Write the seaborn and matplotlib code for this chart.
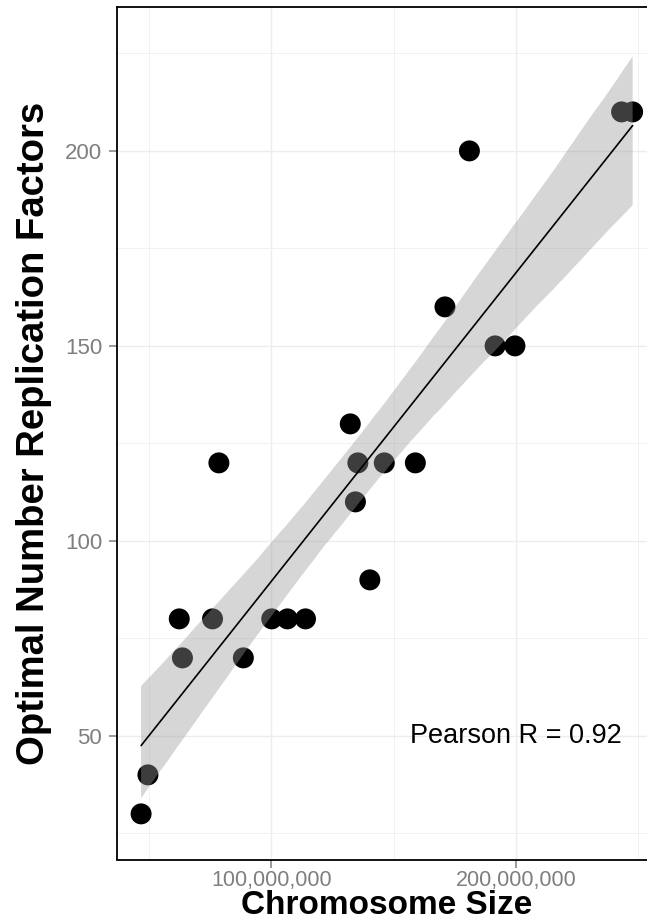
import numpy as np
import pandas as pd
import matplotlib
matplotlib.use("Agg")
import matplotlib.pyplot as plt
import seaborn as sns
from matplotlib.ticker import FuncFormatter, FixedLocator

# ---- data ----
chrom_size_mb = [46.7, 49.5, 62.3, 63.6, 75.9, 78.5, 88.5, 100.1, 106.5, 113.9,
                 132.2, 135.3, 146.1, 158.8, 134.3, 140.2, 170.9, 180.9, 191.4,
                 199.5, 243.1, 247.6]
rep_factors = [30, 40, 80, 70, 80, 120, 70, 80, 80, 80,
               130, 120, 120, 120, 110, 90, 160, 200, 150,
               150, 210, 210]
x_major = [100e6, 200e6]
x_minor = [50e6, 150e6, 250e6]
y_major = [50, 100, 150, 200]
y_minor = [25, 75, 125, 175, 225]
annot_text = "Pearson R = 0.92"

df = pd.DataFrame({"size": np.array(chrom_size_mb) * 1e6, "rf": rep_factors})

sns.set_theme(style="white")
plt.rcParams['font.family'] = ['Liberation Sans', 'DejaVu Sans']

W, H = 647, 922
fig = plt.figure(figsize=(W / 100, H / 100), dpi=100)
ax_left, ax_right, ax_top, ax_bottom = 116.5, 657.2, 7.0, 859.5
ax = fig.add_axes([ax_left / W, (H - ax_bottom) / H,
                   (ax_right - ax_left) / W, (ax_bottom - ax_top) / H])

sns.scatterplot(data=df, x="size", y="rf", s=228, color="black",
                edgecolor="none", linewidth=0, ax=ax, zorder=2)
sns.regplot(data=df, x="size", y="rf", scatter=False, ci=95, n_boot=3000,
            seed=1, color="black", line_kws=dict(lw=1.2, zorder=4), ax=ax)

# style the confidence band like ggplot (grey60, alpha .4, drawn over points)
for coll in ax.collections[1:]:
    coll.set_facecolor((0.6, 0.6, 0.6))
    coll.set_alpha(0.4)
    coll.set_edgecolor("none")
    coll.set_zorder(3)

ax.set_xlim(36.65e6, 257.65e6)
ax.set_ylim(18.3, 236.9)

ax.xaxis.set_major_locator(FixedLocator(x_major))
ax.xaxis.set_minor_locator(FixedLocator(x_minor))
ax.yaxis.set_major_locator(FixedLocator(y_major))
ax.yaxis.set_minor_locator(FixedLocator(y_minor))
ax.xaxis.set_major_formatter(FuncFormatter(lambda v, p: f"{int(round(v)):,}"))

ax.set_axisbelow(True)
ax.grid(which="major", color="#EDEDED", lw=1.0)
ax.grid(which="minor", color="#F1F1F1", lw=0.7)

for side in ["left", "bottom", "top", "right"]:
    ax.spines[side].set_color("black")
    ax.spines[side].set_linewidth(1.3)

ax.tick_params(axis="both", which="major", direction="out", length=5.8, width=1.1,
               color="#7F7F7F", labelcolor="#7F7F7F", labelsize=16,
               left=True, bottom=True, pad=4.5)
ax.tick_params(axis="x", which="major", labelsize=15.5, pad=2)
ax.tick_params(axis="both", which="minor", length=0)

ax.set_xlabel("Chromosome Size", fontsize=24, fontweight="bold", color="black")
ax.xaxis.label.set_va("baseline")
ax.xaxis.set_label_coords(0.5, (ax_bottom - 914) / (ax_bottom - ax_top))

ax.set_ylabel("Optimal Number Replication Factors", fontsize=27.5, fontweight="bold",
              color="black", labelpad=9)

ax.text(200e6, 50, annot_text, ha="center", va="center", fontsize=19.5, color="black")

fig.savefig("out.png", dpi=100)
